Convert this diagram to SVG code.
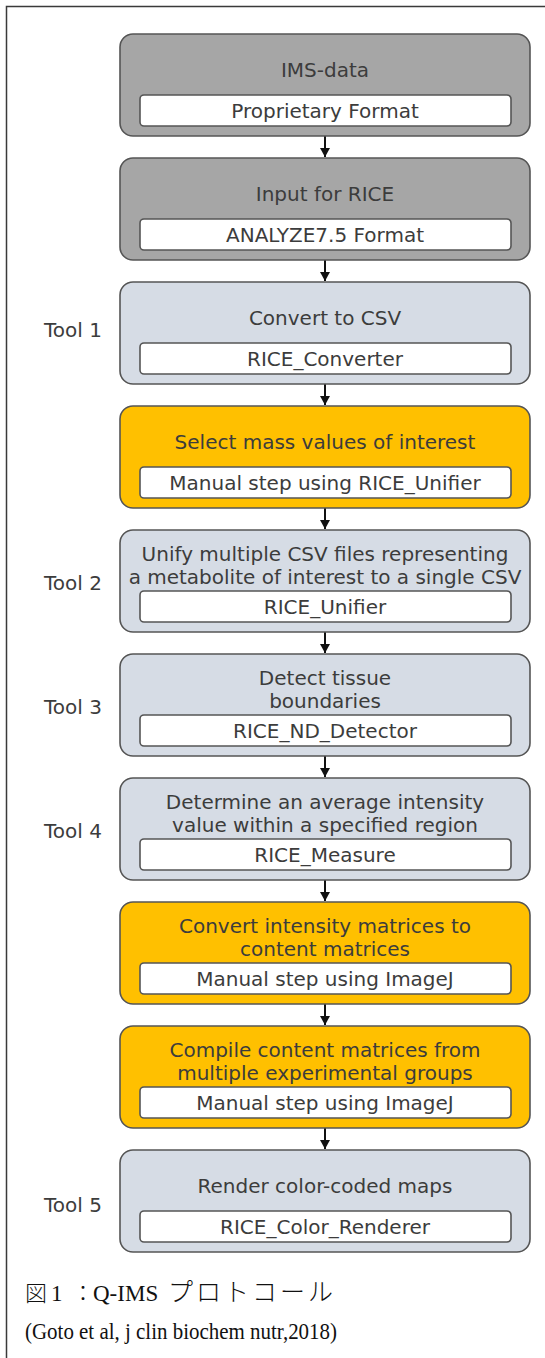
<svg xmlns="http://www.w3.org/2000/svg" width="545" height="1358" viewBox="0 0 545 1358">
<style>
.frame{fill:none;stroke:#3a3a3a;stroke-width:1.5}
.box{stroke:#555;stroke-width:1.6}
.dark{fill:#a6a6a6}
.light{fill:#d6dce5}
.orange{fill:#ffc000}
.inner{fill:#fff;stroke:#555;stroke-width:1.6}
.t{font-family:"DejaVu Sans",Verdana,sans-serif;font-size:20px;fill:#3c3c3c;text-anchor:middle}
.tool{font-family:"DejaVu Sans",Verdana,sans-serif;font-size:20px;fill:#3c3c3c}
.cap{font-family:"Liberation Serif","Noto Sans CJK JP",serif;fill:#111}
.jp{font-family:"Noto Sans CJK JP",sans-serif;font-weight:300}
.conn{stroke:#111;stroke-width:2;fill:none}
</style>
<defs>
<marker id="ah" markerWidth="10" markerHeight="10" refX="9" refY="5" orient="auto" markerUnits="userSpaceOnUse">
<path d="M0,0 L9,5 L0,10 Z" fill="#111"/>
</marker>
</defs>
<rect x="0" y="0" width="545" height="1358" fill="#fff"/>
<rect class="frame" x="6.5" y="6.5" width="600" height="1400"/>

<g id="connectors">
<line class="conn" x1="325" y1="136" x2="325" y2="157" marker-end="url(#ah)"/>
<line class="conn" x1="325" y1="260" x2="325" y2="281" marker-end="url(#ah)"/>
<line class="conn" x1="325" y1="384" x2="325" y2="405" marker-end="url(#ah)"/>
<line class="conn" x1="325" y1="508" x2="325" y2="529" marker-end="url(#ah)"/>
<line class="conn" x1="325" y1="632" x2="325" y2="653" marker-end="url(#ah)"/>
<line class="conn" x1="325" y1="756" x2="325" y2="777" marker-end="url(#ah)"/>
<line class="conn" x1="325" y1="880" x2="325" y2="901" marker-end="url(#ah)"/>
<line class="conn" x1="325" y1="1004" x2="325" y2="1025" marker-end="url(#ah)"/>
<line class="conn" x1="325" y1="1128" x2="325" y2="1149" marker-end="url(#ah)"/>
</g>

<g id="n1">
<rect class="box dark" x="120" y="34" width="410" height="102" rx="13"/>
<text class="t" x="325" y="77">IMS-data</text>
<rect class="inner" x="140" y="95" width="371" height="31" rx="4"/>
<text class="t" x="325" y="118">Proprietary Format</text>
</g>
<g id="n2">
<rect class="box dark" x="120" y="158" width="410" height="102" rx="13"/>
<text class="t" x="325" y="201">Input for RICE</text>
<rect class="inner" x="140" y="219" width="371" height="31" rx="4"/>
<text class="t" x="325" y="242">ANALYZE7.5 Format</text>
</g>
<g id="n3">
<rect class="box light" x="120" y="282" width="410" height="102" rx="13"/>
<text class="t" x="325" y="325">Convert to CSV</text>
<rect class="inner" x="140" y="343" width="371" height="31" rx="4"/>
<text class="t" x="325" y="366">RICE_Converter</text>
<text class="tool" x="44" y="337">Tool 1</text>
</g>
<g id="n4">
<rect class="box orange" x="120" y="406" width="410" height="102" rx="13"/>
<text class="t" x="325" y="449">Select mass values of interest</text>
<rect class="inner" x="140" y="467" width="371" height="31" rx="4"/>
<text class="t" x="325" y="490">Manual step using RICE_Unifier</text>
</g>
<g id="n5">
<rect class="box light" x="120" y="530" width="410" height="102" rx="13"/>
<text class="t" x="325" y="561">Unify multiple CSV files representing</text>
<text class="t" x="325" y="584">a metabolite of interest to a single CSV</text>
<rect class="inner" x="140" y="591" width="371" height="31" rx="4"/>
<text class="t" x="325" y="614">RICE_Unifier</text>
<text class="tool" x="44" y="590">Tool 2</text>
</g>
<g id="n6">
<rect class="box light" x="120" y="654" width="410" height="102" rx="13"/>
<text class="t" x="325" y="685">Detect tissue</text>
<text class="t" x="325" y="708">boundaries</text>
<rect class="inner" x="140" y="715" width="371" height="31" rx="4"/>
<text class="t" x="325" y="738">RICE_ND_Detector</text>
<text class="tool" x="44" y="714">Tool 3</text>
</g>
<g id="n7">
<rect class="box light" x="120" y="778" width="410" height="102" rx="13"/>
<text class="t" x="325" y="809">Determine an average intensity</text>
<text class="t" x="325" y="832">value within a specified region</text>
<rect class="inner" x="140" y="839" width="371" height="31" rx="4"/>
<text class="t" x="325" y="862">RICE_Measure</text>
<text class="tool" x="44" y="838">Tool 4</text>
</g>
<g id="n8">
<rect class="box orange" x="120" y="902" width="410" height="102" rx="13"/>
<text class="t" x="325" y="933">Convert intensity matrices to</text>
<text class="t" x="325" y="956">content matrices</text>
<rect class="inner" x="140" y="963" width="371" height="31" rx="4"/>
<text class="t" x="325" y="986">Manual step using ImageJ</text>
</g>
<g id="n9">
<rect class="box orange" x="120" y="1026" width="410" height="102" rx="13"/>
<text class="t" x="325" y="1057">Compile content matrices from</text>
<text class="t" x="325" y="1080">multiple experimental groups</text>
<rect class="inner" x="140" y="1087" width="371" height="31" rx="4"/>
<text class="t" x="325" y="1110">Manual step using ImageJ</text>
</g>
<g id="n10">
<rect class="box light" x="120" y="1150" width="410" height="102" rx="13"/>
<text class="t" x="325" y="1193">Render color-coded maps</text>
<rect class="inner" x="140" y="1211" width="371" height="31" rx="4"/>
<text class="t" x="325" y="1234">RICE_Color_Renderer</text>
<text class="tool" x="44" y="1212">Tool 5</text>
</g>

<g id="caption">
<text class="cap" x="25" y="1301" font-size="22"><tspan class="jp" font-size="22">図</tspan><tspan x="51" font-size="23">1</tspan><tspan class="jp" x="72" font-size="22">：</tspan><tspan x="93" font-size="23">Q-IMS</tspan><tspan class="jp" font-size="25" x="168 196 224 252 280 308">プロトコール</tspan></text>
<text class="cap" x="25" y="1339" font-size="23" textLength="312" lengthAdjust="spacingAndGlyphs">(Goto et al, j clin biochem nutr,2018)</text>
</g>
</svg>
